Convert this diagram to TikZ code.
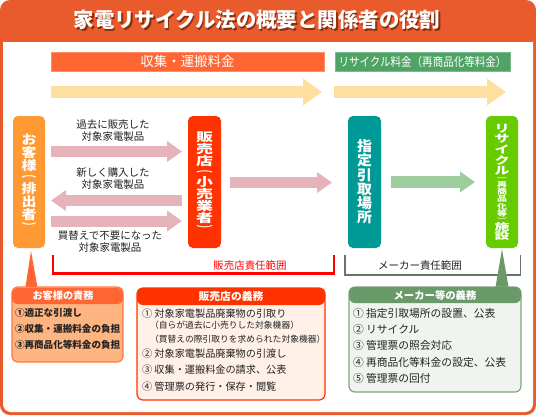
\documentclass[tikz,border=0pt]{standalone}
\usepackage{fontspec}
\usepackage{graphicx}
\setmainfont{Noto Sans CJK JP}
\usetikzlibrary{arrows.meta}
\definecolor{frameC}{HTML}{E95A2C}
\definecolor{barA}{HTML}{FF6633}
\definecolor{barB}{HTML}{4FA364}
\definecolor{peach}{HTML}{FFDFA0}
\definecolor{pinkA}{HTML}{E6B3BA}
\definecolor{greenA}{HTML}{9DCC9D}
\definecolor{kyakuC}{HTML}{FF9933}
\definecolor{hanbaiC}{HTML}{FF3300}
\definecolor{shiteiC}{HTML}{009A96}
\definecolor{recycC}{HTML}{66CC00}
\definecolor{redB}{HTML}{FF0000}
\definecolor{grayB}{HTML}{667766}
\definecolor{cAhead}{HTML}{FF6633}
\definecolor{cAbody}{HTML}{FFB582}
\definecolor{cAline}{HTML}{FF7744}
\definecolor{cBhead}{HTML}{FF3300}
\definecolor{cBbody}{HTML}{FFF0E8}
\definecolor{cChead}{HTML}{6A9A6A}
\definecolor{cCbody}{HTML}{EFF5EE}
\definecolor{cCline}{HTML}{7FA67F}
\definecolor{shadowC}{HTML}{8A2E10}
\definecolor{txt}{HTML}{222222}
\newcommand\vrow[3]{\hbox to 24bp{\hss\vbox to #1{\vss\hbox{\scalebox{1}[#2]{#3}}\vss}\hss}}
\newcommand\shadowed[1]{\makebox[0pt][l]{\hspace{1.5bp}\raisebox{-1.5bp}{\textcolor{shadowC}{#1}}}#1}
\begin{document}
\begin{tikzpicture}[x=1bp,y=-1bp,
  every node/.style={inner sep=0pt,outer sep=0pt},
  bignode/.style={rounded corners=5bp,minimum width=33bp,minimum height=132bp,text=white,font=\bfseries},
  bar/.style={minimum height=19bp,text=white,line width=0.8bp},
  fatP/.style={pinkA,line width=11bp,-{Triangle[length=15bp,width=20bp]}},
  fatG/.style={greenA,line width=12bp,-{Triangle[length=15bp,width=20bp]}},
  fatY/.style={peach,line width=12bp,-{Triangle[length=19bp,width=26bp]}},
  lbl/.style={align=center,text=txt,font=\fontsize{10.5}{12}\selectfont},
  cbox/.style={rounded corners=6bp,line width=1.2bp},
  chead/.style={rounded corners=6bp,text=white},
  itemA/.style={anchor=west,text=txt,font=\bfseries\fontsize{9.6}{11}\selectfont},
  itemB/.style={anchor=west,text=txt,font=\fontsize{10.2}{12}\selectfont},
  subB/.style={anchor=west,text=txt,font=\fontsize{8.8}{10}\selectfont},
  itemC/.style={anchor=west,text=txt,font=\fontsize{10.8}{12}\selectfont}]
\useasboundingbox (0,0) rectangle (536,415);
% frame
\fill[frameC,rounded corners=10bp] (0,0) rectangle (536,415);
\fill[white,rounded corners=8bp] (3,30) rectangle (533,412);
\fill[frameC] (3,29) rectangle (533,42);
% title
\node[font=\bfseries\fontsize{20.5}{22}\selectfont,text=white] (title) at (257,21) {\shadowed{家電リサイクル法の概要と関係者の役割}};
% fee bars
\node[bar,fill=barA,draw=barA!75!white,minimum width=273bp,font=\fontsize{13.5}{14}\selectfont] (fee1) at (187.5,61.5) {収集・運搬料金};
\node[bar,fill=barB,draw=barB!75!white,minimum width=175bp,font=\fontsize{12}{14}\selectfont] (fee2) at (422.5,61.5) {\scalebox{0.88}[1]{リサイクル料金（再商品化等料金）}};
\draw[fatY] ([yshift=-21bp]fee1.south west) -- ([xshift=-2bp,yshift=-21bp]fee1.south east);
\draw[fatY] ([xshift=-1bp,yshift=-21bp]fee2.south west) -- ([xshift=-4bp,yshift=-21bp]fee2.south east);
% main nodes
\node[bignode,fill=kyakuC,minimum width=32bp,font=\bfseries\fontsize{15}{15}\selectfont] (kyaku) at (29,182)
 {\vbox{\offinterlineskip
  \vrow{13bp}{0.86}{お}\vrow{13bp}{0.86}{客}\vrow{13bp}{0.86}{様}\vrow{10bp}{0.55}{︵}
  \vrow{13bp}{0.86}{排}\vrow{13bp}{0.86}{出}\vrow{13bp}{0.86}{者}\vrow{10bp}{0.55}{︶}}};
\node[bignode,fill=hanbaiC,font=\bfseries\fontsize{17}{17}\selectfont] (hanbai) at (204.5,182)
 {\vbox{\offinterlineskip
  \vrow{12bp}{0.7}{販}\vrow{12bp}{0.7}{売}\vrow{12bp}{0.7}{店}\vrow{9bp}{0.42}{︵}
  \vrow{12bp}{0.7}{小}\vrow{12bp}{0.7}{売}\vrow{12bp}{0.7}{業}\vrow{12bp}{0.7}{者}\vrow{9bp}{0.42}{︶}}};
\node[bignode,fill=shiteiC,font=\bfseries\fontsize{15}{15}\selectfont] (shitei) at (364.5,182)
 {\vbox{\offinterlineskip
  \vrow{14.2bp}{0.94}{指}\vrow{14.2bp}{0.94}{定}\vrow{14.2bp}{0.94}{引}
  \vrow{14.2bp}{0.94}{取}\vrow{14.2bp}{0.94}{場}\vrow{14.2bp}{0.94}{所}}};
\node[bignode,fill=recycC,minimum width=32bp,font=\bfseries\fontsize{15}{15}\selectfont] (recyc) at (502,182)
 {\vbox{\offinterlineskip
  \vrow{10.7bp}{0.7}{リ}\vrow{10.7bp}{0.7}{サ}\vrow{10.7bp}{0.7}{イ}\vrow{10.7bp}{0.7}{ク}\vrow{10.7bp}{0.7}{ル}
  \vrow{4.5bp}{0.42}{\fontsize{10}{10}\selectfont ︵}
  \vrow{7.3bp}{0.72}{\fontsize{10}{10}\selectfont 再}\vrow{7.3bp}{0.72}{\fontsize{10}{10}\selectfont 商}
  \vrow{7.3bp}{0.72}{\fontsize{10}{10}\selectfont 品}\vrow{7.3bp}{0.72}{\fontsize{10}{10}\selectfont 化}
  \vrow{7.3bp}{0.72}{\fontsize{10}{10}\selectfont 等}
  \vrow{4.5bp}{0.42}{\fontsize{10}{10}\selectfont ︶}
  \vrow{9.6bp}{0.63}{施}\vrow{9.6bp}{0.63}{設}}};
% flow arrows
\draw[fatP] ([xshift=6bp,yshift=30.5bp]kyaku.east) -- ([xshift=-6bp,yshift=30.5bp]hanbai.west);
\draw[fatP] ([xshift=-6bp,yshift=-18.5bp]hanbai.west) -- ([xshift=6bp,yshift=-18.5bp]kyaku.east);
\draw[fatP] ([xshift=6bp,yshift=-39bp]kyaku.east) -- ([xshift=-6bp,yshift=-39bp]hanbai.west);
\draw[fatP] ([xshift=9bp,yshift=-0.5bp]hanbai.east) -- ([xshift=-16bp,yshift=-0.5bp]shitei.west);
\draw[fatG] ([xshift=10bp]shitei.east) -- ([xshift=-11bp]recyc.west);
% labels
\node[lbl] (l1) at (113,131) {過去に販売した\\対象家電製品};
\node[lbl] (l2) at (113,179) {新しく購入した\\対象家電製品};
\node[lbl] (l3) at (110,241.5) {買替えで不要になった\\対象家電製品};
% brackets
\draw[redB,line width=2.2bp] (53,255) -- (53,273.5) -- (334,273.5) -- (334,255);
\node[lbl,text=redB] (r1) at (250,266) {販売店責任範囲};
\draw[grayB,line width=1.5bp] (345,255) -- (345,275) -- (520.5,275) -- (520.5,255);
\node[lbl] (r2) at (420,266) {メーカー責任範囲};
% callout A
\coordinate (tipA) at (31,251);
\fill[cAhead] (tipA) -- (38,290) -- (25,290) -- cycle;
\node[cbox,fill=cAbody,draw=cAline,minimum width=111bp,minimum height=75bp] (boxA) at (67.5,324.5) {};
\node[chead,fill=cAhead,minimum width=111bp,minimum height=16bp] (headA) at (67.5,296) {};
\node[text=white,font=\bfseries\fontsize{10.2}{12}\selectfont] (headAt) at (63,295.5) {お客様の責務};
\node[itemA] (a1) at (15,313) {①適正な引渡し};
\node[itemA] (a2) at (15,329) {②収集・運搬料金の負担};
\node[itemA] (a3) at (15,345) {③再商品化等料金の負担};
% callout B
\node[cbox,fill=cBbody,draw=cBhead,minimum width=188bp,minimum height=112bp] (boxB) at (231,344) {};
\node[chead,fill=cBhead,minimum width=188bp,minimum height=17bp] (headB) at (231,296.5) {};
\node[text=white,font=\bfseries\fontsize{10.8}{12}\selectfont] (headBt) at (231,296) {販売店の義務};
\node[itemB] (b1) at (142,314) {① 対象家電製品廃棄物の引取り};
\node[subB] (b1a) at (150,325.5) {（自らが過去に小売りした対象機器）};
\node[subB] (b1b) at (150,339.5) {（買替えの際引取りを求められた対象機器）};
\node[itemB] (b2) at (142,354) {② 対象家電製品廃棄物の引渡し};
\node[itemB] (b3) at (142,370) {③ 収集・運搬料金の請求、公表};
\node[itemB] (b4) at (142,386.5) {④ 管理票の発行・保存・閲覧};
% callout C
\coordinate (tipC) at (502,249);
\fill[cChead] (tipC) -- (509,290) -- (495,290) -- cycle;
\node[cbox,fill=cCbody,draw=cCline,minimum width=172bp,minimum height=105bp] (boxC) at (435,339.5) {};
\node[chead,fill=cChead,minimum width=172bp,minimum height=16bp] (headC) at (435,295) {};
\node[text=white,font=\bfseries\fontsize{10.4}{12}\selectfont] (headCt) at (435,296) {メーカー等の義務};
\node[itemC] (c1) at (353,313) {① 指定引取場所の設置、公表};
\node[itemC] (c2) at (353,329) {② リサイクル};
\node[itemC] (c3) at (353,345) {③ 管理票の照会対応};
\node[itemC] (c4) at (353,362) {④ 再商品化等料金の設定、公表};
\node[itemC] (c5) at (353,378) {⑤ 管理票の回付};
\end{tikzpicture}
\end{document}
